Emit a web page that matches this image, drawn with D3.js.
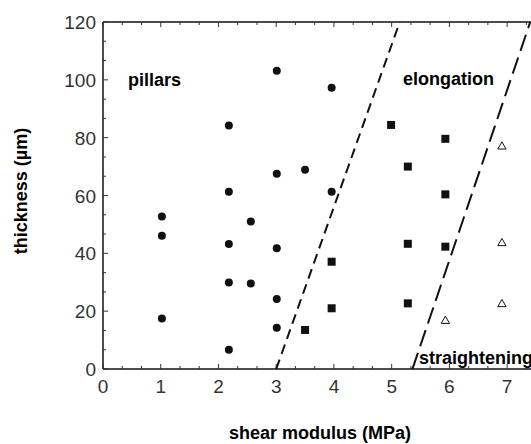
<!DOCTYPE html>
<html>
<head>
<meta charset="utf-8">
<script src="https://cdn.jsdelivr.net/npm/d3@7"></script>
<style>
  body { margin: 0; background: #fff; }
  svg { display: block; font-family: "Liberation Sans", Arial, sans-serif; }
</style>
</head>
<body>
<svg id="chart" width="531" height="444"></svg>
<script>
// pillars (filled circles)
var pillarsX = [1.02, 1.02, 1.02, 2.18, 2.18, 2.18, 2.18, 2.18, 2.56, 2.56, 3.01, 3.01, 3.01, 3.01, 3.01, 3.50, 3.96, 3.96]
var pillarsY = [52.7, 46.1, 17.5, 84.2, 61.3, 43.2, 29.9, 6.7, 51.0, 29.6, 103.1, 67.5, 41.8, 24.2, 14.3, 68.9, 97.3, 61.3]
// elongation (filled squares)
var elongX = [4.99, 5.93, 5.28, 5.93, 3.96, 5.28, 5.93, 3.96, 5.28, 3.50]
var elongY = [84.4, 79.6, 70.0, 60.4, 37.1, 43.3, 42.3, 21.0, 22.7, 13.5]
// straightening (open triangles)
var straightX = [6.91, 6.91, 6.91, 5.93]
var straightY = [76.9, 43.5, 22.4, 16.6]
// boundaries [x at 0, x at 120]
var border1 = [[3.0, 0], [5.14, 120]]
var border2 = [[5.36, 0], [7.40, 120]]
var xTicks = [0, 1, 2, 3, 4, 5, 6, 7]
var yTicks = [0, 20, 40, 60, 80, 100, 120]

var svg = d3.select("#chart")
var x = d3.scaleLinear().domain([0, 7.5]).range([103, 536])
var y = d3.scaleLinear().domain([0, 120]).range([369, 22])

var minorX = d3.range(0, 7.5, 1/3)
var minorY = d3.range(0, 120.01, 20/3)

svg.append("defs").append("clipPath").attr("id", "clip")
  .append("rect").attr("x", 103).attr("y", 22).attr("width", 433).attr("height", 347)

// frame
svg.append("line").attr("x1", 103).attr("x2", 536).attr("y1", y(120)).attr("y2", y(120))
  .attr("stroke", "#111").attr("stroke-width", 1.5)
svg.append("line").attr("x1", 103).attr("x2", 536).attr("y1", y(0)).attr("y2", y(0))
  .attr("stroke", "#111").attr("stroke-width", 1.5)
svg.append("line").attr("x1", x(0)).attr("x2", x(0)).attr("y1", 22).attr("y2", 369)
  .attr("stroke", "#111").attr("stroke-width", 1.5)

// ticks (inward), every third of a unit
minorX.forEach(function(v) {
  var major = Math.abs(v - Math.round(v)) < 0.01
  var len = major ? 5 : 3
  svg.append("line").attr("x1", x(v)).attr("x2", x(v)).attr("y1", y(0)).attr("y2", y(0) - len)
    .attr("stroke", "#333").attr("stroke-width", 1)
  svg.append("line").attr("x1", x(v)).attr("x2", x(v)).attr("y1", y(120)).attr("y2", y(120) + len)
    .attr("stroke", "#333").attr("stroke-width", 1)
})
minorY.forEach(function(v) {
  var major = Math.abs(v / 20 - Math.round(v / 20)) < 0.01
  var len = major ? 5 : 3
  svg.append("line").attr("x1", x(0)).attr("x2", x(0) + len).attr("y1", y(v)).attr("y2", y(v))
    .attr("stroke", "#333").attr("stroke-width", 1)
})

// tick labels
svg.selectAll(".xt").data(xTicks).enter().append("text")
  .attr("x", function(d) { return x(d) }).attr("y", 393)
  .attr("text-anchor", "middle").attr("font-size", 19).attr("fill", "#333")
  .text(function(d) { return d })
svg.selectAll(".yt").data(yTicks).enter().append("text")
  .attr("x", 96).attr("y", function(d) { return y(d) + 7 })
  .attr("text-anchor", "end").attr("font-size", 19).attr("fill", "#333")
  .text(function(d) { return d })

// axis titles
svg.append("text").attr("x", 320).attr("y", 439).attr("text-anchor", "middle")
  .attr("font-size", 18).attr("font-weight", "bold").text("shear modulus (MPa)")
svg.append("text").attr("transform", "translate(27,191) rotate(-90)").attr("text-anchor", "middle")
  .attr("font-size", 18).attr("font-weight", "bold").text("thickness (µm)")

// boundaries
var line = d3.line().x(function(d) { return x(d[0]) }).y(function(d) { return y(d[1]) })
var g = svg.append("g").attr("clip-path", "url(#clip)")
g.append("path").attr("d", line(border1)).attr("fill", "none").attr("stroke", "#111")
  .attr("stroke-width", 2).attr("stroke-dasharray", "10,6")
g.append("path").attr("d", line(border2)).attr("fill", "none").attr("stroke", "#111")
  .attr("stroke-width", 2).attr("stroke-dasharray", "17,7")

// points
pillarsX.forEach(function(v, i) {
  svg.append("circle").attr("cx", x(v)).attr("cy", y(pillarsY[i])).attr("r", 4).attr("fill", "#111")
})
elongX.forEach(function(v, i) {
  svg.append("rect").attr("x", x(v) - 4).attr("y", y(elongY[i]) - 4)
    .attr("width", 8).attr("height", 8).attr("fill", "#111")
})
var tri = d3.symbol().type(d3.symbolTriangle).size(30)
straightX.forEach(function(v, i) {
  svg.append("path").attr("d", tri()).attr("transform", "translate(" + x(v) + "," + y(straightY[i]) + ")")
    .attr("fill", "none").attr("stroke", "#111").attr("stroke-width", 1)
})

// region labels
svg.append("text").attr("x", 128).attr("y", 86).attr("font-size", 18).attr("font-weight", "bold").text("pillars")
svg.append("text").attr("x", 403).attr("y", 85).attr("font-size", 18).attr("font-weight", "bold").text("elongation")
svg.append("text").attr("x", 419).attr("y", 364).attr("font-size", 18).attr("font-weight", "bold").text("straightening")
</script>
</body>
</html>
